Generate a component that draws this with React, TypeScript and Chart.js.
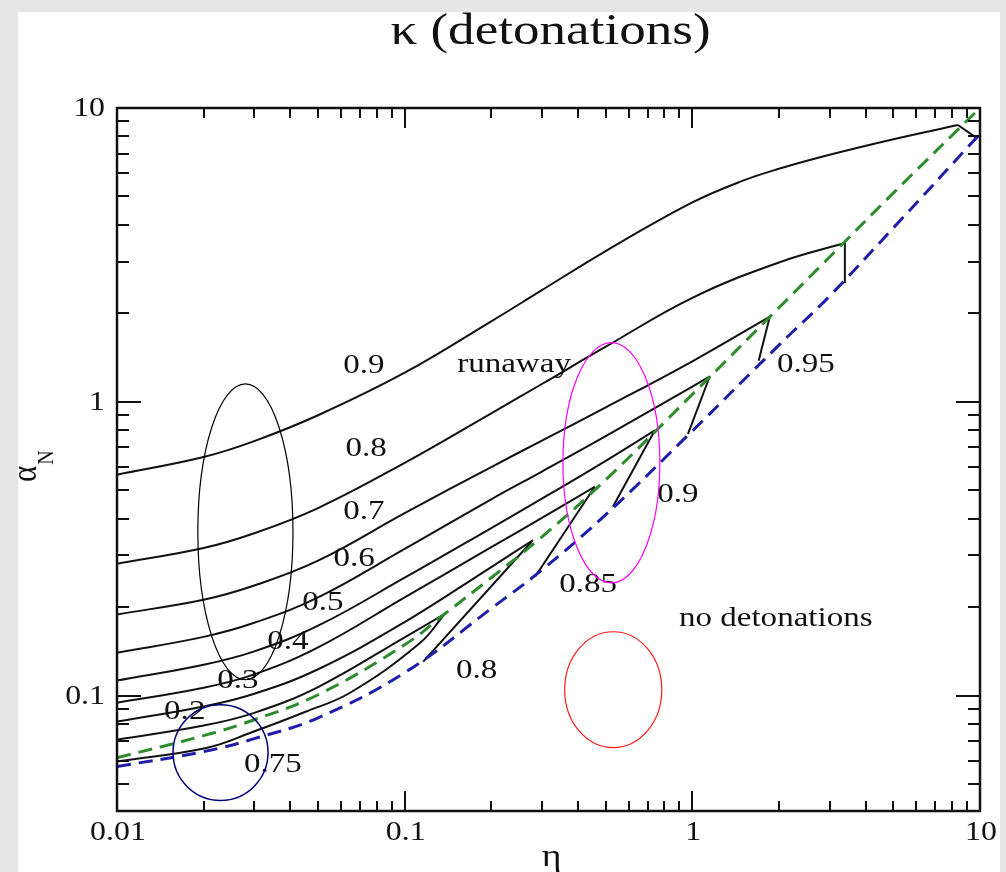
import React, { useEffect, useRef } from "react";
import { Chart, registerables } from "chart.js";

Chart.register(...registerables);

type Pt = [number, number];

// Axis ranges (log-log)
const X_MIN = 0.01;
const X_MAX = 10;
const Y_MIN = 0.0405;
const Y_MAX = 10;

// Major tick values and their labels
const X_MAJOR = [0.01, 0.1, 1, 10];
const X_MAJOR_LABELS = ["0.01", "0.1", "1", "10"];
const Y_MAJOR = [0.1, 1, 10];
const Y_MAJOR_LABELS = ["0.1", "1", "10"];

// κ contours (η, α_N): smooth rise up to the green boundary
const KAPPA_09: Pt[] = [[0.01, 0.565], [0.02, 0.649], [0.03, 0.735], [0.05, 0.9], [0.1, 1.256], [0.2, 1.879], [0.3, 2.4], [0.5, 3.26], [1, 4.77], [1.5, 5.66], [2, 6.21], [3, 6.93], [5, 7.83], [8.38, 8.75]];
const KAPPA_08: Pt[] = [[0.01, 0.281], [0.02, 0.318], [0.03, 0.357], [0.05, 0.435], [0.1, 0.62], [0.2, 0.914], [0.3, 1.15], [0.5, 1.54], [1, 2.26], [2, 2.98], [3.39, 3.47]];
const KAPPA_07: Pt[] = [[0.01, 0.189], [0.02, 0.212], [0.03, 0.237], [0.05, 0.288], [0.1, 0.418], [0.2, 0.6], [0.3, 0.738], [0.5, 0.957], [1, 1.374], [1.86, 1.95]];
const KAPPA_06: Pt[] = [[0.01, 0.14], [0.02, 0.1585], [0.03, 0.177], [0.05, 0.216], [0.1, 0.316], [0.2, 0.466], [0.3, 0.579], [0.5, 0.764], [1, 1.127], [1.15, 1.222]];
const KAPPA_05: Pt[] = [[0.01, 0.1125], [0.02, 0.1274], [0.03, 0.1415], [0.05, 0.173], [0.1, 0.252], [0.2, 0.372], [0.3, 0.468], [0.5, 0.63], [0.741, 0.8]];
const KAPPA_04: Pt[] = [[0.01, 0.0946], [0.02, 0.1064], [0.03, 0.1182], [0.05, 0.146], [0.1, 0.216], [0.2, 0.32], [0.3, 0.403], [0.458, 0.514]];
const KAPPA_03: Pt[] = [[0.01, 0.0816], [0.02, 0.0918], [0.03, 0.1015], [0.05, 0.123], [0.1, 0.178], [0.2, 0.274], [0.279, 0.338]];
const KAPPA_02: Pt[] = [[0.01, 0.0708], [0.02, 0.0791], [0.03, 0.0874], [0.05, 0.107], [0.1, 0.158], [0.138, 0.19]];
const KAPPA_075: Pt[] = [[0.01, 0.0597], [0.0206, 0.0665], [0.0299, 0.0755], [0.045, 0.088], [0.0646, 0.1023], [0.113, 0.151], [0.138, 0.19]];

// straight drops from the green boundary down to the blue one
const DROPS: Pt[][] = [
  [[8.38, 8.75], [9.75, 7.9]],
  [[3.39, 3.47], [3.39, 2.54]],
  [[1.86, 1.95], [1.7, 1.38]],
  [[1.15, 1.222], [0.966, 0.778]],
  [[0.741, 0.8], [0.53, 0.44]],
  [[0.458, 0.514], [0.284, 0.254]],
  [[0.279, 0.338], [0.116, 0.1305]],
];

// boundaries (dashed)
const GREEN_BOUNDARY: Pt[] = [[0.01, 0.0615], [0.02, 0.0731], [0.03, 0.0828], [0.05, 0.1007], [0.1, 0.149], [0.138, 0.19], [0.2, 0.252], [0.3, 0.347], [0.5, 0.543], [1, 1.06], [2, 2.09], [3, 3.11], [5, 5.14], [10, 10]];
const BLUE_BOUNDARY: Pt[] = [[0.01, 0.0574], [0.02, 0.0645], [0.03, 0.0714], [0.05, 0.0841], [0.1, 0.1197], [0.2, 0.198], [0.3, 0.268], [0.5, 0.413], [1, 0.796], [2, 1.56], [3, 2.29], [5, 3.91], [10, 8.16]];

// in-plot text, anchored at (η, α_N)
const ANNOTATIONS: { text: string; eta: number; alpha: number }[] = [
  { text: "0.9", eta: 0.0722, alpha: 1.326 },
  { text: "0.8", eta: 0.0734, alpha: 0.692 },
  { text: "0.7", eta: 0.0722, alpha: 0.423 },
  { text: "0.6", eta: 0.0667, alpha: 0.292 },
  { text: "0.5", eta: 0.052, alpha: 0.207 },
  { text: "0.4", eta: 0.0393, alpha: 0.153 },
  { text: "0.3", eta: 0.0263, alpha: 0.1125 },
  { text: "0.2", eta: 0.0172, alpha: 0.0883 },
  { text: "0.75", eta: 0.0348, alpha: 0.0582 },
  { text: "runaway", eta: 0.24, alpha: 1.336 },
  { text: "0.95", eta: 2.48, alpha: 1.336 },
  { text: "0.9", eta: 0.891, alpha: 0.483 },
  { text: "0.85", eta: 0.434, alpha: 0.239 },
  { text: "0.8", eta: 0.178, alpha: 0.1216 },
  { text: "no detonations", eta: 1.95, alpha: 0.183 },
];

// highlighted regions: bounding boxes in (η, α_N)
const HIGHLIGHTS: { x0: number; x1: number; y0: number; y1: number; color: string; width: number }[] = [
  { x0: 0.0191, x1: 0.0409, y0: 0.1133, y1: 1.151, color: "#000000", width: 1.2 },
  { x0: 0.355, x1: 0.771, y0: 0.242, y1: 1.59, color: "#ff00ff", width: 1.2 },
  { x0: 0.36, x1: 0.783, y0: 0.0665, y1: 0.165, color: "#ff1a1a", width: 1.2 },
  { x0: 0.01566, x1: 0.0335, y0: 0.044, y1: 0.0931, color: "#00007a", width: 1.5 },
];

const TITLE = "κ (detonations)";
const X_TITLE = "η";
const Y_TITLE = "α";
const Y_TITLE_SUB = "N";

const SERIF = '"Liberation Serif", "Times New Roman", serif';
const TEXT_STRETCH = 1.18;

function minorTicks(min: number, max: number): number[] {
  const out: number[] = [];
  for (let e = -3; e <= 1; e++) {
    for (let m = 2; m <= 9; m++) {
      const v = m * Math.pow(10, e);
      if (v > min * 1.0001 && v < max * 0.9999) out.push(v);
    }
  }
  return out;
}

function stretchText(
  ctx: CanvasRenderingContext2D,
  text: string,
  x: number,
  y: number,
  size: number,
  align: CanvasTextAlign = "center",
  baseline: CanvasTextBaseline = "middle"
) {
  ctx.save();
  ctx.font = `${size}px ${SERIF}`;
  ctx.fillStyle = "#111111";
  ctx.textAlign = align;
  ctx.textBaseline = baseline;
  ctx.translate(x, y);
  ctx.scale(TEXT_STRETCH, 1);
  ctx.fillText(text, 0, 0);
  ctx.restore();
}

const backdrop = {
  id: "backdrop",
  beforeDraw(chart: any) {
    const { ctx, width, height } = chart;
    ctx.save();
    ctx.fillStyle = "#e6e6e6";
    ctx.fillRect(0, 0, width, height);
    ctx.fillStyle = "#ffffff";
    ctx.fillRect(18, 12, 982, height - 12);
    ctx.restore();
  },
};

const decorations = {
  id: "decorations",
  afterDraw(chart: any) {
    const { ctx, chartArea } = chart;
    const xs = chart.scales.x;
    const ys = chart.scales.y;
    const { left, right, top, bottom } = chartArea;

    ctx.save();
    ctx.strokeStyle = "#111111";
    ctx.lineCap = "butt";

    // ticks (pointing inward, on all four sides)
    ctx.lineWidth = 2;
    const xTick = (v: number, len: number) => {
      const px = Math.round(xs.getPixelForValue(v));
      ctx.beginPath();
      ctx.moveTo(px, bottom);
      ctx.lineTo(px, bottom - len);
      ctx.moveTo(px, top);
      ctx.lineTo(px, top + len);
      ctx.stroke();
    };
    const yTick = (v: number, len: number) => {
      const py = Math.round(ys.getPixelForValue(v));
      ctx.beginPath();
      ctx.moveTo(left, py);
      ctx.lineTo(left + len, py);
      ctx.moveTo(right, py);
      ctx.lineTo(right - len, py);
      ctx.stroke();
    };
    minorTicks(X_MIN, X_MAX).forEach((v) => xTick(v, 10));
    X_MAJOR.forEach((v) => xTick(v, 20));
    minorTicks(Y_MIN, Y_MAX).forEach((v) => yTick(v, 12));
    Y_MAJOR.forEach((v) => yTick(v, 24));

    // frame
    ctx.lineWidth = 2.5;
    ctx.strokeRect(left, top, right - left, bottom - top);

    // tick labels
    X_MAJOR.forEach((v, i) => {
      stretchText(ctx, X_MAJOR_LABELS[i], xs.getPixelForValue(v) + 1, bottom + 22, 27);
    });
    Y_MAJOR.forEach((v, i) => {
      stretchText(ctx, Y_MAJOR_LABELS[i], left - 12, ys.getPixelForValue(v) + 1, 27, "right");
    });

    // titles
    stretchText(ctx, TITLE, (left + right) / 2 + 2, 32, 45);
    stretchText(ctx, X_TITLE, (left + right) / 2 + 3, 866, 32, "center", "alphabetic");

    ctx.save();
    ctx.translate(36, 482);
    ctx.rotate(-Math.PI / 2);
    ctx.scale(1, TEXT_STRETCH);
    ctx.fillStyle = "#111111";
    ctx.textAlign = "left";
    ctx.textBaseline = "alphabetic";
    ctx.font = `31px ${SERIF}`;
    ctx.fillText(Y_TITLE, 0, 0);
    const aw = ctx.measureText(Y_TITLE).width;
    ctx.font = `20px ${SERIF}`;
    ctx.fillText(Y_TITLE_SUB, aw + 1, 14);
    ctx.restore();

    // in-plot labels
    ANNOTATIONS.forEach((a) => {
      stretchText(ctx, a.text, xs.getPixelForValue(a.eta), ys.getPixelForValue(a.alpha), 28);
    });

    // highlighted regions
    HIGHLIGHTS.forEach((h) => {
      const x0 = xs.getPixelForValue(h.x0);
      const x1 = xs.getPixelForValue(h.x1);
      const y0 = ys.getPixelForValue(h.y0);
      const y1 = ys.getPixelForValue(h.y1);
      ctx.beginPath();
      ctx.ellipse((x0 + x1) / 2, (y0 + y1) / 2, Math.abs(x1 - x0) / 2, Math.abs(y1 - y0) / 2, 0, 0, Math.PI * 2);
      ctx.strokeStyle = h.color;
      ctx.lineWidth = h.width;
      ctx.stroke();
    });

    ctx.restore();
  },
};

const toXY = (pts: Pt[]) => pts.map(([x, y]) => ({ x, y }));

function solid(pts: Pt[], smooth: boolean) {
  return {
    data: toXY(pts),
    borderColor: "#111111",
    borderWidth: 2,
    pointRadius: 0,
    fill: false,
    tension: smooth ? 0.4 : 0,
  };
}

function dashed(pts: Pt[], color: string) {
  return {
    data: toXY(pts),
    borderColor: color,
    borderWidth: 3,
    borderDash: [14, 8],
    pointRadius: 0,
    fill: false,
    tension: 0.4,
  };
}

export default function App() {
  const ref = useRef<HTMLCanvasElement>(null);

  useEffect(() => {
    if (!ref.current) return;
    const contours = [KAPPA_09, KAPPA_08, KAPPA_07, KAPPA_06, KAPPA_05, KAPPA_04, KAPPA_03, KAPPA_02, KAPPA_075];
    const datasets: any[] = [
      dashed(GREEN_BOUNDARY, "#2e8b2e"),
      dashed(BLUE_BOUNDARY, "#1e1eaa"),
      ...contours.map((c) => solid(c, true)),
      ...DROPS.map((d) => solid(d, false)),
    ];

    const chart = new Chart(ref.current, {
      type: "line",
      data: { datasets },
      options: {
        responsive: false,
        animation: false,
        devicePixelRatio: 1,
        events: [],
        layout: { padding: { left: 117, top: 108, right: 26, bottom: 61 } },
        plugins: {
          legend: { display: false },
          tooltip: { enabled: false },
          title: { display: false },
        },
        scales: {
          x: { type: "logarithmic", min: X_MIN, max: X_MAX, display: false },
          y: { type: "logarithmic", min: Y_MIN, max: Y_MAX, display: false },
        },
      },
      plugins: [backdrop, decorations],
    } as any);

    return () => chart.destroy();
  }, []);

  return (
    <canvas
      ref={ref}
      width={1006}
      height={872}
      style={{ position: "fixed", left: 0, top: 0, width: 1006, height: 872, display: "block" }}
    />
  );
}
